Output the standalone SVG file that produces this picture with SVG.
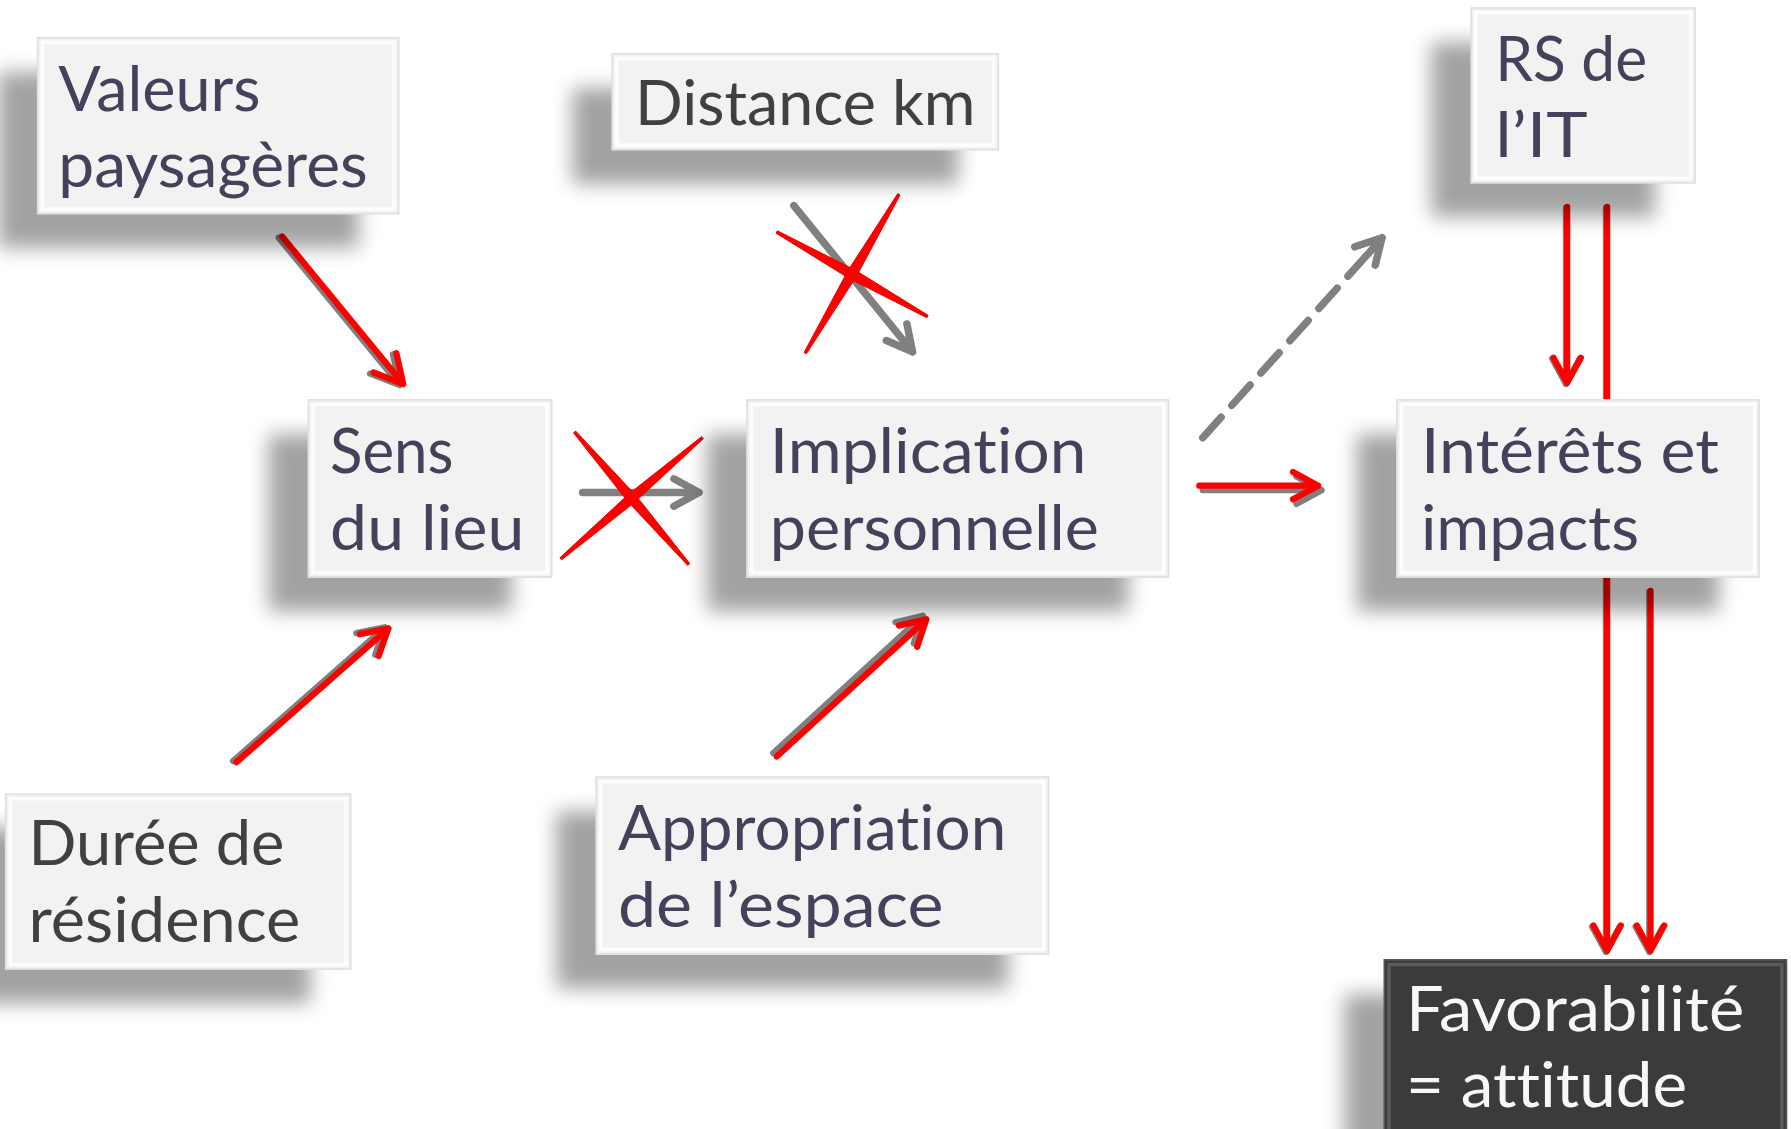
<svg xmlns="http://www.w3.org/2000/svg" xmlns:xlink="http://www.w3.org/1999/xlink" width="1791" height="1129" viewBox="0 0 1791 1129">
<style>
.box{fill:#f2f2f2;stroke:#e4e0d8;stroke-width:1.5}
.bev{fill:none;stroke:#ffffff;stroke-width:3;opacity:.85}
.dbox{fill:#3b3b3b;stroke:#555;stroke-width:1.5}
.dbev{fill:none;stroke:#5a5a5a;stroke-width:3}
.shd{fill:#000;opacity:.36}
.t{font-family:Lato,"Open Sans","DejaVu Sans",sans-serif;font-size:55px;fill:#43425a;font-variant-ligatures:none;font-feature-settings:"liga" 0,"clig" 0,"dlig" 0}
.tg{fill:#404040}
.tw{fill:#f8f8f8}
.red{fill:none;stroke:#ff0000;stroke-width:5.5;stroke-linecap:round;stroke-linejoin:round}
.ash{fill:none;stroke:#7f7f7f;stroke-width:5.5;stroke-linecap:round;stroke-linejoin:round}
.gray{fill:none;stroke:#808080;stroke-width:6.5;stroke-linecap:round;stroke-linejoin:round}
.x{fill:#ff0000;stroke:#e00000;stroke-width:.8}
</style>
<defs>
<filter id="blur" x="-20%" y="-30%" width="140%" height="160%"><feGaussianBlur stdDeviation="9"/></filter>
<path id="a1" d="M247,207 L353,336 M347,309 L353,336 L327,326"/>
<path id="a2" d="M207,667 L340,550 M315,555 L340,550 L331.5,574"/>
<path id="a3" d="M680,662 L811,542 M787,547.5 L811,542 L803,566"/>
<path id="a4" d="M1050,425 L1154,425 M1132,413 L1154,425 L1132,437"/>
<path id="a8" d="M1372,181 L1372,335 M1360,313 L1372,335 L1384,313"/>
<path id="a9" d="M1407,181 L1407,832 M1395,810 L1407,832 L1419,810"/>
<path id="a10" d="M1445,517 L1445,832 M1433,810 L1445,832 L1457,810"/>
</defs>
<rect x="0" y="0" width="1791" height="1129" fill="#ffffff"/>
<g transform="scale(1.14222,1.14271)">
<g id="connectors">
  <use xlink:href="#a1" class="ash" transform="translate(-3,1)"/>
  <use xlink:href="#a1" class="red"/>
  <use xlink:href="#a2" class="ash" transform="translate(-3,-1)"/>
  <use xlink:href="#a2" class="red"/>
  <use xlink:href="#a3" class="ash" transform="translate(-3,-3)"/>
  <use xlink:href="#a3" class="red"/>
  <use xlink:href="#a4" class="ash" transform="translate(3,4)"/>
  <use xlink:href="#a4" class="red"/>
  <use xlink:href="#a8" class="ash" transform="translate(-1,1)"/>
  <use xlink:href="#a8" class="red"/>
  <use xlink:href="#a9" class="ash" transform="translate(-1,1)"/>
  <use xlink:href="#a9" class="red"/>
  <use xlink:href="#a10" class="ash" transform="translate(-1,1)"/>
  <use xlink:href="#a10" class="red"/>
  <path class="gray" d="M1053,383 L1205,214" stroke-dasharray="24 14" stroke-linecap="butt"/>
  <path class="gray" d="M1198,222 L1210,208 M1186,216 L1210,208 L1204,232"/>
  <path class="gray" d="M510,431 L612,431 M590,419 L612,431 L590,443"/>
  <path class="gray" d="M695,180 L799,308 M794,283.5 L799,308 L776,298"/>
  <polygon class="x" points="502.1,378.8 549.6,438.9 602.1,494.8 603.9,493.2 556.4,433.1 503.9,377.2"/>
  <polygon class="x" points="491.8,489.9 555.9,439.4 615.8,383.9 614.2,382.1 550.1,432.6 490.2,488.1"/>
  <polygon class="x" points="679.4,204.05 743.8,243.9 811.4,278.05 812.6,275.95 748.2,236.1 680.6,201.95"/>
  <polygon class="x" points="706.03,309.61 749.87,241.79 788.03,170.61 785.97,169.39 742.13,237.21 703.97,308.39"/>
</g>
<g id="valeurs">
  <rect class="shd" x="-2" y="63" width="316" height="154" filter="url(#blur)"/>
  <rect class="box" x="33" y="33" width="316" height="154"/>
  <rect class="bev" x="37" y="37" width="308" height="146"/>
  <text class="t" x="51" y="97" textLength="177" lengthAdjust="spacingAndGlyphs">Valeurs</text>
  <text class="t" x="51" y="164" textLength="271" lengthAdjust="spacingAndGlyphs">paysagères</text>
</g>
<g id="distance">
  <rect class="shd" x="501" y="77" width="338" height="84" filter="url(#blur)"/>
  <rect class="box" x="536" y="47" width="338" height="84"/>
  <rect class="bev" x="540" y="51" width="330" height="76"/>
  <text class="t tg" x="556" y="109" textLength="298" lengthAdjust="spacingAndGlyphs">Distance km</text>
</g>
<g id="rs">
  <rect class="shd" x="1253" y="37" width="196" height="153" filter="url(#blur)"/>
  <rect class="box" x="1288" y="7" width="196" height="153"/>
  <rect class="bev" x="1292" y="11" width="188" height="145"/>
  <text class="t" x="1309" y="71" textLength="133" lengthAdjust="spacingAndGlyphs">RS de</text>
  <text class="t" x="1309" y="137" textLength="81" lengthAdjust="spacingAndGlyphs">l’IT</text>
</g>
<g id="sens">
  <rect class="shd" x="235" y="380" width="213" height="155" filter="url(#blur)"/>
  <rect class="box" x="270" y="350" width="213" height="155"/>
  <rect class="bev" x="274" y="354" width="205" height="147"/>
  <text class="t" x="289" y="414" textLength="108" lengthAdjust="spacingAndGlyphs">Sens</text>
  <text class="t" x="289" y="481" textLength="170" lengthAdjust="spacingAndGlyphs">du lieu</text>
</g>
<g id="implication">
  <rect class="shd" x="619" y="380" width="369" height="155" filter="url(#blur)"/>
  <rect class="box" x="654" y="350" width="369" height="155"/>
  <rect class="bev" x="658" y="354" width="361" height="147"/>
  <text class="t" x="674" y="414" textLength="277" lengthAdjust="spacingAndGlyphs">Implication</text>
  <text class="t" x="674" y="481" textLength="288" lengthAdjust="spacingAndGlyphs">personnelle</text>
</g>
<g id="interets">
  <rect class="shd" x="1188" y="380" width="317" height="155" filter="url(#blur)"/>
  <rect class="box" x="1223" y="350" width="317" height="155"/>
  <rect class="bev" x="1227" y="354" width="309" height="147"/>
  <text class="t" x="1244" y="414" textLength="261" lengthAdjust="spacingAndGlyphs">Intérêts et</text>
  <text class="t" x="1244" y="481" textLength="191" lengthAdjust="spacingAndGlyphs">impacts</text>
</g>
<g id="duree">
  <rect class="shd" x="-30" y="725" width="302" height="153" filter="url(#blur)"/>
  <rect class="box" x="5" y="695" width="302" height="153"/>
  <rect class="bev" x="9" y="699" width="294" height="145"/>
  <text class="t tg" x="25" y="757" textLength="224" lengthAdjust="spacingAndGlyphs">Durée de</text>
  <text class="t tg" x="25" y="824" textLength="238" lengthAdjust="spacingAndGlyphs">résidence</text>
</g>
<g id="appropriation">
  <rect class="shd" x="487" y="710" width="396" height="155" filter="url(#blur)"/>
  <rect class="box" x="522" y="680" width="396" height="155"/>
  <rect class="bev" x="526" y="684" width="388" height="147"/>
  <text class="t" x="541" y="744" textLength="340" lengthAdjust="spacingAndGlyphs">Appropriation</text>
  <text class="t" x="541" y="811" textLength="285" lengthAdjust="spacingAndGlyphs">de l’espace</text>
</g>
<g id="favorabilite">
  <rect class="shd" x="1177" y="870" width="352" height="160" filter="url(#blur)"/>
  <rect class="dbox" x="1212" y="840" width="352" height="160"/>
  <rect class="dbev" x="1216" y="844" width="344" height="160"/>
  <text class="t tw" x="1231" y="902" textLength="296" lengthAdjust="spacingAndGlyphs">Favorabilité</text>
  <text class="t tw" x="1231" y="969" textLength="246" lengthAdjust="spacingAndGlyphs">= attitude</text>
</g>
</g>
</svg>
